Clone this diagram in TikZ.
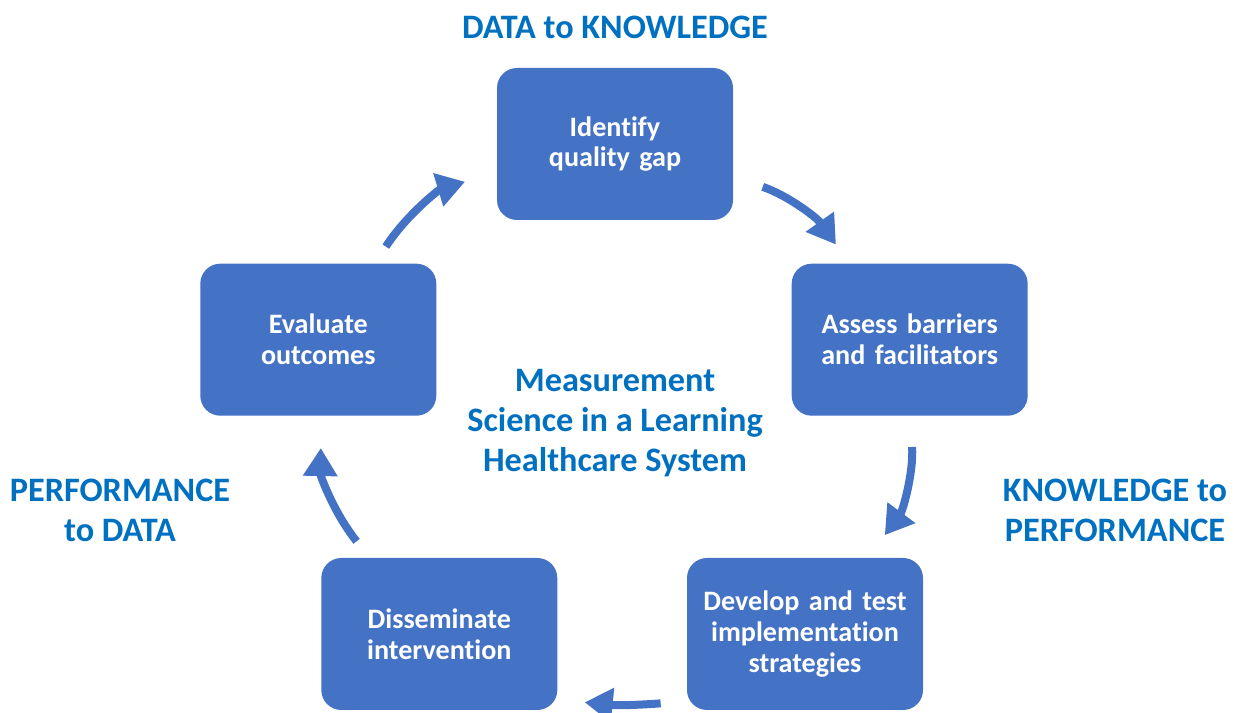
\documentclass[tikz,border=0pt]{standalone}
\usepackage{fontspec}
\setmainfont{Carlito}[Ligatures=NoCommon]
\usepackage{xcolor}
\usepackage{tikz}
\usetikzlibrary{positioning,arrows.meta}

\definecolor{stepblue}{HTML}{4472C4}
\definecolor{labelblue}{HTML}{0070C0}

\begin{document}
\begin{tikzpicture}[
    node distance=1cm,
    stage/.style={rectangle, rounded corners=0.4cm, fill=stepblue, text=white, text width=4.72cm, align=center, minimum height=3.04cm, inner sep=0pt, font=\fontsize{16}{17.6}\selectfont\bfseries},
    phase/.style={text=labelblue, align=center, font=\fontsize{19.5}{22.8}\selectfont\bfseries},
    flow/.style={-{Triangle[length=0.56cm,width=0.66cm]}, line width=0.16cm, draw=stepblue, bend left=20}
]
\useasboundingbox (0,0) rectangle (24.68,14.26);

\node[stage] (ident) at (12.30,11.38) {Identify\\quality gap};

\node[stage, below right=0.86cm and 1.16cm of ident] (assess) {Assess barriers\\and facilitators};
\node[stage, below left=0.86cm and 1.20cm of ident] (eval) {Evaluate\\outcomes};
\node[stage] (develop) at (16.10,1.58) {Develop and test\\implementation\\strategies};
\node[stage, left=2.58cm of develop] (dissem) {Disseminate\\intervention};

\node[phase] (title) at (12.30,5.80) {Measurement\\Science in a Learning\\Healthcare System};
\node[phase] (d2k) at (12.30,13.72) {DATA to KNOWLEDGE};
\node[phase] (k2p) at (22.30,4.06) {KNOWLEDGE to\\PERFORMANCE};
\node[phase] (p2d) at (2.40,4.06) {PERFORMANCE\\to DATA};

\draw[flow, shorten <=0.4cm, shorten >=0.66cm] (eval) to (ident);
\draw[flow, bend left=18, shorten <=0.62cm, shorten >=0.46cm] (ident) to (assess);
\draw[flow, shorten <=0.62cm, shorten >=0.56cm] (assess) to (develop);
\draw[flow, bend left=5] ([shift={(-0.52,0.14)}]develop.south west) to ([shift={(0.54,0.16)}]dissem.south east);
\draw[flow, shorten <=0.42cm, shorten >=0.64cm] (dissem) to (eval);

\end{tikzpicture}
\end{document}
